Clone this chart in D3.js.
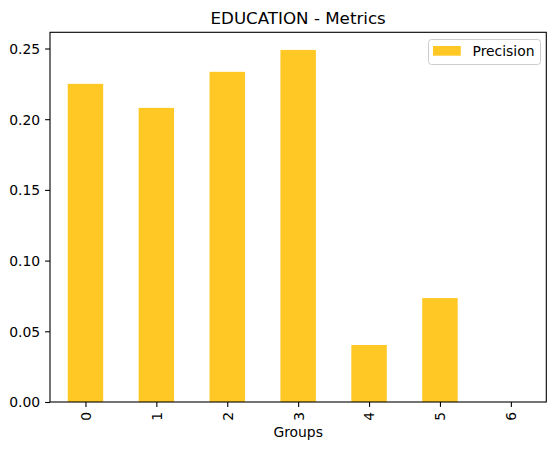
<!DOCTYPE html>
<html lang="en">
<head>
    <meta charset="UTF-8">
    <title>EDUCATION - Metrics</title>
    <script src="https://d3js.org/d3.v7.min.js"></script>
    <style>
        body { margin: 0; background: #fff; }
        text { font-family: "DejaVu Sans", sans-serif; fill: #000; }
        .tick text { font-size: 13.9px; }
    </style>
</head>
<body>
    <script>
        // Data
        const groups = ["0", "1", "2", "3", "4", "5", "6"];
        const precision = [0.225, 0.208, 0.2335, 0.249, 0.0403, 0.0735, 0];
        const yTicks = [0.00, 0.05, 0.10, 0.15, 0.20, 0.25];

        const width = 556;
        const height = 450;
        const margin = {top: 32.3, right: 9.7, bottom: 48, left: 50};

        const svg = d3.select("body").append("svg")
            .attr("width", width)
            .attr("height", height);

        const x = d3.scaleLinear()
            .domain([-0.5, groups.length - 0.5])
            .range([margin.left, width - margin.right]);

        const y = d3.scaleLinear()
            .domain([0, d3.max(precision) * 1.05])
            .range([height - margin.bottom, margin.top]);

        // Bars
        svg.append("g")
            .selectAll("rect")
            .data(precision)
            .join("rect")
            .attr("x", (d, i) => x(i - 0.25))
            .attr("width", x(0.25) - x(-0.25))
            .attr("y", d => y(d))
            .attr("height", d => y(0) - y(d))
            .attr("fill", "#ffc825");

        // Y axis
        const yAxis = svg.append("g")
            .attr("transform", `translate(${margin.left},0)`)
            .call(d3.axisLeft(y).tickValues(yTicks).tickFormat(d3.format(".2f"))
                .tickSize(4.9).tickPadding(4.9));
        yAxis.select(".domain").remove();
        yAxis.selectAll(".tick line").attr("stroke", "#000").attr("stroke-width", 1.1);
        yAxis.selectAll(".tick text").attr("fill", "#000").attr("dy", "0.35em");

        // X axis
        const xAxis = svg.append("g")
            .attr("transform", `translate(0,${height - margin.bottom})`)
            .call(d3.axisBottom(x).tickValues(d3.range(groups.length)).tickFormat(i => groups[i])
                .tickSize(4.9).tickPadding(4.9));
        xAxis.select(".domain").remove();
        xAxis.selectAll(".tick line").attr("stroke", "#000").attr("stroke-width", 1.1);
        xAxis.selectAll(".tick text")
            .attr("fill", "#000")
            .attr("y", 0)
            .attr("dy", "0.35em")
            .attr("transform", "translate(0,9.8) rotate(-90)")
            .attr("text-anchor", "end");

        // Frame
        svg.append("rect")
            .attr("x", margin.left)
            .attr("y", margin.top)
            .attr("width", width - margin.left - margin.right)
            .attr("height", height - margin.top - margin.bottom)
            .attr("fill", "none")
            .attr("stroke", "#000")
            .attr("stroke-width", 1.1);

        // Title and axis label
        svg.append("text")
            .attr("x", (margin.left + width - margin.right) / 2)
            .attr("y", 24)
            .attr("text-anchor", "middle")
            .style("font-size", "16.7px")
            .text("EDUCATION - Metrics");

        svg.append("text")
            .attr("x", (margin.left + width - margin.right) / 2)
            .attr("y", 437)
            .attr("text-anchor", "middle")
            .style("font-size", "13.9px")
            .text("Groups");

        // Legend
        const legend = svg.append("g");
        legend.append("rect")
            .attr("x", 428.5).attr("y", 39.5)
            .attr("width", 112).attr("height", 25)
            .attr("rx", 3)
            .attr("fill", "#fff")
            .attr("fill-opacity", 0.8)
            .attr("stroke", "#ccc");
        legend.append("rect")
            .attr("x", 433).attr("y", 46)
            .attr("width", 27.8).attr("height", 9.7)
            .attr("fill", "#ffc825");
        legend.append("text")
            .attr("x", 472.5).attr("y", 56)
            .style("font-size", "13.9px")
            .text("Precision");
    </script>
</body>
</html>
